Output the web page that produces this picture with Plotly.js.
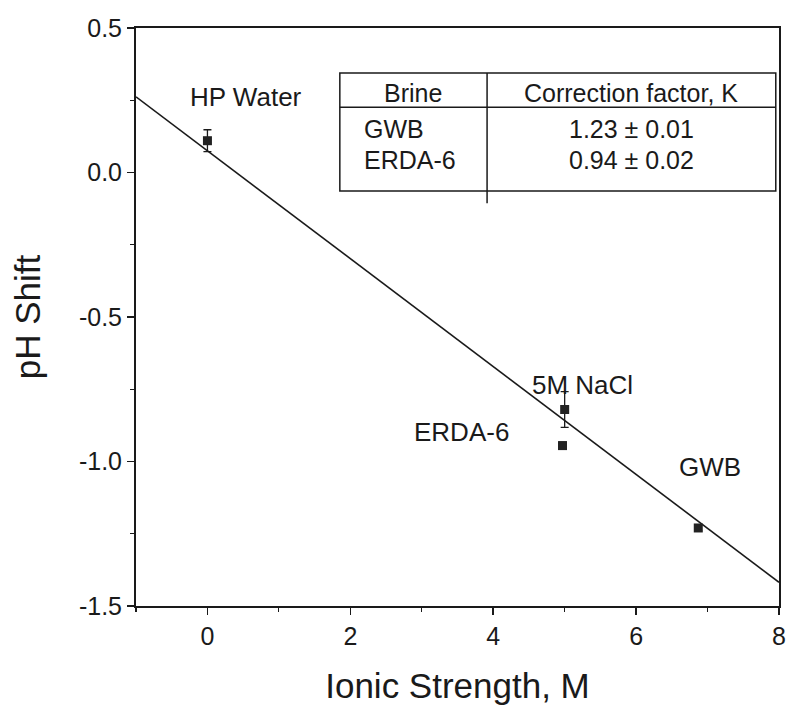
<!DOCTYPE html>
<html>
<head>
<meta charset="utf-8">
<script src="https://cdn.plot.ly/plotly-3.0.1.min.js"></script>
<style>body{margin:0;padding:0;background:#fff}#chart{width:787px;height:708px}</style>
</head>
<body>
<div id="chart"></div>
<script>
// Data
var sampleNames = ["HP Water", "5M NaCl", "ERDA-6", "GWB"];
var ionicStrength = [0, 5.0, 4.97, 6.87];
var phShift = [0.11, -0.82, -0.945, -1.23];
var phError = [0.038, 0.062, 0.012, 0.01];
var fitX = [-1, 8];
var fitY = [0.262, -1.418];
var tableHeader = ["Brine", "Correction factor, K"];
var tableBrines = ["GWB", "ERDA-6"];
var tableK = ["1.23 \u00b1 0.01", "0.94 \u00b1 0.02"];
var xTicks = [0, 2, 4, 6, 8];
var yTicks = [0.5, 0.0, -0.5, -1.0, -1.5];

var FONT = "Liberation Sans, Arial, sans-serif";
var ink = "#1a1a1a";

var traces = [
  {x: fitX, y: fitY, mode: "lines", line: {color: ink, width: 1.6}, hoverinfo: "skip", showlegend: false},
  {x: ionicStrength, y: phShift, mode: "markers", type: "scatter",
   marker: {symbol: "square", size: 9, color: "#222"},
   error_y: {type: "data", array: phError, visible: true, color: ink, thickness: 1.3, width: 4},
   showlegend: false}
];

// label positions (data coords)
var labelPos = [[0.54, 0.26], [5.25, -0.735], [3.55, -0.898], [7.04, -1.02]];
var annotations = sampleNames.map(function(n, i){
  return {x: labelPos[i][0], y: labelPos[i][1], xref: "x", yref: "y", text: n, showarrow: false,
          font: {family: FONT, size: 26, color: ink}, xanchor: "center", yanchor: "middle"};
});

// table
var tx0 = 0.317, tx1 = 0.995, tdiv = 0.546, ty0 = 0.718, ty1 = 0.922, thead = 0.863;
var TS = 25;
annotations.push({x: (tx0 + tdiv)/2, y: 0.888, xref: "paper", yref: "paper", text: tableHeader[0], showarrow: false,
  font: {family: FONT, size: TS, color: ink}, xanchor: "center", yanchor: "middle"});
annotations.push({x: (tdiv + tx1)/2, y: 0.888, xref: "paper", yref: "paper", text: tableHeader[1], showarrow: false,
  font: {family: FONT, size: TS, color: ink}, xanchor: "center", yanchor: "middle"});
var rowY = [0.825, 0.771];
tableBrines.forEach(function(b, i){
  annotations.push({x: 0.352, y: rowY[i], xref: "paper", yref: "paper", text: b, showarrow: false,
    font: {family: FONT, size: TS, color: ink}, xanchor: "left", yanchor: "middle"});
  annotations.push({x: (tdiv + tx1)/2, y: rowY[i], xref: "paper", yref: "paper", text: tableK[i], showarrow: false,
    font: {family: FONT, size: TS, color: ink}, xanchor: "center", yanchor: "middle"});
});

var shapes = [
  {type: "rect", xref: "paper", yref: "paper", x0: tx0, x1: tx1, y0: ty0, y1: ty1, line: {color: ink, width: 1.5}, fillcolor: "rgba(255,255,255,1)"},
  {type: "line", xref: "paper", yref: "paper", x0: tx0, x1: tx1, y0: thead, y1: thead, line: {color: ink, width: 1.5}},
  {type: "line", xref: "paper", yref: "paper", x0: tdiv, x1: tdiv, y0: 0.697, y1: ty1, line: {color: ink, width: 1.5}}
];

var layout = {
  width: 787, height: 708,
  margin: {l: 136, r: 8, t: 28, b: 102},
  paper_bgcolor: "#fff", plot_bgcolor: "#fff",
  font: {family: FONT, color: ink},
  xaxis: {range: [-1, 8], tickvals: xTicks, ticktext: xTicks.map(String), showgrid: false, zeroline: false,
    showline: true, mirror: true, linecolor: ink, linewidth: 2, ticks: "outside", ticklen: 7, tickwidth: 1.5, tickcolor: ink,
    tickfont: {family: FONT, size: 25, color: ink},
    minor: {dtick: 1, ticks: "outside", ticklen: 4, tickcolor: ink, tickwidth: 1.2},
    title: {text: "Ionic Strength, M", font: {family: FONT, size: 35, color: ink}, standoff: 24}},
  yaxis: {range: [-1.5, 0.5], tickvals: yTicks, ticktext: yTicks.map(function(v){return v.toFixed(1);}), showgrid: false, zeroline: false,
    showline: true, mirror: true, linecolor: ink, linewidth: 2, ticks: "outside", ticklen: 7, tickwidth: 1.5, tickcolor: ink,
    tickfont: {family: FONT, size: 25, color: ink},
    minor: {dtick: 0.25, ticks: "outside", ticklen: 4, tickcolor: ink, tickwidth: 1.2},
    title: {text: "pH Shift", font: {family: FONT, size: 35, color: ink}, standoff: 28}},
  annotations: annotations,
  shapes: shapes
};

Plotly.newPlot("chart", traces, layout, {displayModeBar: false, staticPlot: true});
</script>
</body>
</html>
